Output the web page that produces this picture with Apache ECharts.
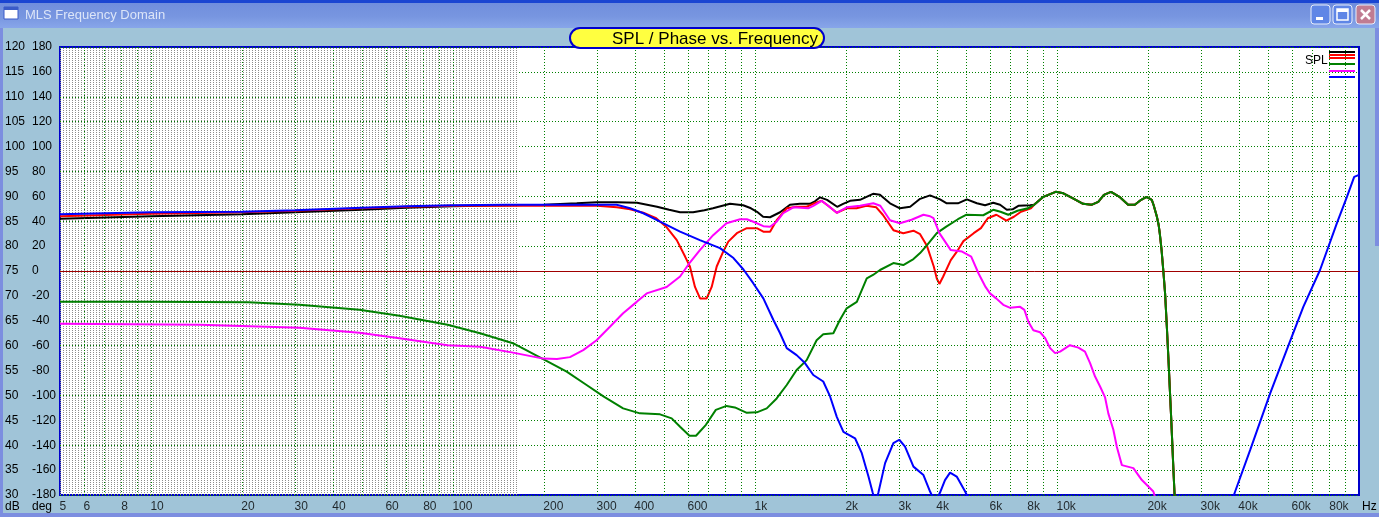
<!DOCTYPE html>
<html>
<head>
<meta charset="utf-8">
<title>MLS Frequency Domain</title>
<script src="https://cdn.jsdelivr.net/npm/echarts@6/dist/echarts.min.js"></script>
<style>
  html, body { margin: 0; padding: 0; background: #A0C4D8; overflow: hidden; }
  #chart { width: 1379px; height: 517px; }
</style>
</head>
<body>
<div id="chart"></div>
<script>
const FONT = 'Liberation Sans, Arial, sans-serif';

// black SPL (sum)
const blackHz = [5, 10, 20, 30, 50, 70, 100, 150, 200, 257, 300, 349, 407, 474, 520, 565, 624, 680, 726, 827,
  914, 970, 1016, 1064, 1122, 1211, 1306, 1409, 1520, 1580, 1643, 1733, 1871, 1958, 2066, 2228, 2460, 2594, 2800, 3020,
  3265, 3522, 3800, 4100, 4316, 4700, 5030, 5430, 5780, 6150, 6480, 6820, 7130, 7450, 8150];
const blackDb = [85.5, 86.0, 86.4, 86.8, 87.3, 87.7, 88.0, 88.2, 88.3, 88.6, 88.8, 88.8, 88.7, 87.9, 87.3, 86.8, 86.8, 87.2, 87.6, 88.5,
  88.2, 87.6, 86.9, 85.9, 85.8, 86.8, 88.3, 88.5, 88.5, 89.0, 89.8, 89.3, 87.9, 88.5, 89.1, 89.3, 90.5, 90.3, 88.6, 87.6,
  87.9, 89.5, 90.2, 89.4, 88.6, 88.6, 89.4, 88.6, 88.2, 88.7, 88.3, 87.3, 87.4, 88.1, 88.2];

// top end where black, red and green run together
const hfHz = [8400, 9015, 9900, 10500, 11300, 12200, 13000, 13700, 14300, 15100, 16100, 17200, 18100, 19000, 19800, 20600,
  20900, 21400, 21700, 21900, 22200, 22500, 22800, 23100, 23400, 23900, 24300, 24600];
const hfDb = [88.3, 89.9, 90.9, 90.6, 89.6, 88.5, 88.3, 88.9, 90.3, 90.9, 89.9, 88.3, 88.3, 89.3, 89.9, 89.3,
  88.2, 86.0, 84.3, 82.5, 79.2, 75.0, 70.5, 64.0, 57.1, 45.1, 35.0, 28.0];

const redHz = [5, 10, 20, 30, 50, 70, 100, 200, 300, 349, 386, 427, 471, 508, 551, 587, 609, 633, 658, 692,
  719, 747, 785, 816, 871, 940, 1014, 1066, 1122, 1180, 1274, 1374, 1483, 1560, 1662, 1747, 1866, 2012, 2170, 2340,
  2522, 2650, 2873, 3098, 3348, 3522, 3713, 3909, 4000, 4080, 4200, 4450, 4700, 4900, 5300, 5600, 5900, 6300, 6800, 7200,
  7600, 8200];
const redDb = [86.0, 86.5, 86.8, 87.1, 87.6, 87.9, 88.1, 88.1, 88.1, 87.8, 87.4, 86.7, 85.6, 83.9, 81.2, 77.9, 75.9, 71.8, 69.5, 69.5,
  71.8, 75.9, 78.9, 80.9, 82.6, 83.6, 83.6, 82.9, 82.9, 85.2, 87.6, 87.9, 87.9, 88.5, 89.1, 88.1, 86.7, 87.6, 87.6, 88.1,
  87.8, 86.3, 83.2, 82.6, 83.1, 82.4, 80.0, 75.9, 73.5, 72.4, 73.9, 77.2, 79.2, 81.0, 82.6, 83.6, 85.6, 86.3, 85.1, 85.9,
  86.9, 87.6];

const greenHz = [5, 10, 21, 31, 49, 66.5, 96, 123, 158, 199, 238, 277, 315, 366, 416, 485, 530, 565, 607, 638,
  688, 742, 805, 858, 940, 1014, 1094, 1180, 1274, 1374, 1483, 1600, 1683, 1818, 1912, 2012, 2174, 2345, 2460, 2594,
  2873, 3098, 3348, 3522, 3713, 4000, 4300, 4700, 5000, 5700, 6150, 6500, 6900, 7400, 8000];
const greenDb = [68.8, 68.8, 68.7, 68.2, 67.2, 66.0, 64.2, 62.5, 60.5, 57.3, 54.8, 52.1, 49.8, 47.4, 46.4, 46.2, 45.4, 43.7, 41.9, 41.9,
  44.1, 47.1, 47.9, 47.6, 46.5, 46.6, 47.4, 49.4, 52.1, 55.1, 57.1, 61.1, 62.3, 62.5, 65.2, 67.5, 68.8, 73.5, 74.2, 75.2,
  76.6, 76.2, 77.4, 78.6, 80.2, 82.6, 83.9, 85.4, 86.3, 86.2, 87.3, 86.9, 86.3, 87.1, 87.6];

const magentaHz = [5, 14.5, 31, 49, 66.5, 96, 123, 158, 199, 221, 244, 270, 299, 331, 366, 406, 438, 510, 565, 607,
  657, 727, 805, 893, 940, 988, 1066, 1122, 1180, 1240, 1340, 1500, 1560, 1662, 1747, 1866, 2012, 2228, 2465, 2600,
  2800, 3020, 3300, 3613, 3800, 3900, 4080, 4450, 4850, 5200, 5500, 5800, 6000, 6290, 6640, 7000, 7550, 7800, 8040, 8350,
  8790, 9140, 9490, 9860, 10240, 11040, 11770, 12380, 12870, 13370, 13890, 14430, 14790, 15370, 15780, 16400, 17900, 19100, 20850, 21500];
const magentaDb = [64.4, 64.2, 63.6, 62.6, 61.5, 60.1, 59.8, 58.6, 57.4, 57.3, 57.7, 59.1, 61.1, 63.8, 66.5, 68.8, 70.5, 71.8, 73.9, 76.6,
  79.2, 82.2, 84.6, 85.4, 85.4, 84.9, 84.0, 83.9, 84.9, 86.6, 87.8, 87.6, 88.1, 89.1, 88.1, 86.7, 87.8, 88.1, 88.6, 88.1,
  85.2, 84.6, 85.3, 86.3, 86.0, 85.6, 82.6, 79.2, 78.9, 77.9, 74.5, 71.8, 70.5, 69.5, 68.2, 67.6, 67.8, 67.2, 64.8, 63.1,
  62.7, 61.5, 59.5, 58.5, 58.8, 60.1, 59.6, 58.8, 56.5, 53.8, 51.8, 49.6, 46.4, 43.1, 39.7, 36.0, 35.4, 33.0, 30.7, 28.0];

const blueHz = [5, 10, 20, 30, 50, 70, 100, 150, 348, 386, 427, 485, 565, 657, 766, 849, 916, 988, 1066, 1150,
  1211, 1274, 1374, 1464, 1560, 1683, 1773, 1866, 1963, 2145, 2258, 2376, 2453, 2510, 2563, 2697, 2873, 3005, 3140, 3348,
  3613, 3800, 3950, 4100, 4258, 4425, 4656, 4965, 5300, 8000, 30000, 37000, 38900, 43600, 50800, 57600, 65400, 74300, 84500, 91200,
  96400, 100000];
const blueDb = [86.4, 86.8, 86.9, 87.2, 87.7, 88.0, 88.2, 88.3, 88.3, 87.6, 86.6, 84.9, 82.9, 81.2, 79.6, 77.6, 75.3, 72.5, 69.5, 65.2,
  62.5, 59.5, 58.1, 56.5, 54.1, 52.8, 49.8, 45.7, 42.7, 41.4, 38.4, 33.7, 30.5, 28.5, 30.5, 36.4, 40.4, 41.1, 39.7, 35.7,
  34.0, 30.7, 28.5, 30.5, 33.0, 34.5, 33.7, 30.7, 27.0, 15.0, 15.0, 27.0, 30.7, 39.0, 50.4, 59.1, 67.8, 75.2, 84.6, 89.9,
  93.9, 94.3];

// frequency grid + labels
const gridHz = [6, 7, 8, 9, 10, 20, 30, 40, 50, 60, 70, 80, 90, 100, 200, 300, 400, 500, 600, 700, 800, 900,
  1000, 2000, 3000, 4000, 5000, 6000, 7000, 8000, 9000, 10000, 20000, 30000, 40000, 50000, 60000, 70000, 80000, 90000];
const tickHz = [5, 6, 8, 10, 20, 30, 40, 60, 80, 100, 200, 300, 400, 600, 1000, 2000, 3000, 4000, 6000, 8000,
  10000, 20000, 30000, 40000, 60000, 80000];
const tickText = ['5', '6', '8', '10', '20', '30', '40', '60', '80', '100', '200', '300', '400', '600', '1k', '2k', '3k', '4k', '6k', '8k',
  '10k', '20k', '30k', '40k', '60k', '80k'];
const fineGridEndHz = 165;
const zeroDb = 75;

function pairs(hz, db) { return hz.map((f, i) => [f, db[i]]); }

// dotted grey fill for the low band
const pat = document.createElement('canvas');
pat.width = 3; pat.height = 2;
const pctx = pat.getContext('2d');
pctx.fillStyle = '#8c8c8c';
pctx.fillRect(0, 0, 1, 1);

const chart = echarts.init(document.getElementById('chart'), null, { renderer: 'canvas' });

function curve(name, color, data, z) {
  return {
    name: name, type: 'line', data: data, xAxisIndex: 0, yAxisIndex: 0,
    showSymbol: false, symbol: 'none', z: z, silent: true, clip: true,
    lineStyle: { color: color, width: 2 }
  };
}

const btn = (x, fill) => ({ type: 'rect', shape: { x: x, y: 5, width: 19, height: 19, r: 3 },
  style: { fill: fill, stroke: '#E8EEFB', lineWidth: 1 }, z: 100 });

const option = {
  animation: false,
  backgroundColor: '#A0C4D8',
  grid: { left: 60, top: 47, width: 1299, height: 448, show: true, backgroundColor: '#ffffff',
    borderColor: '#0000CC', borderWidth: 2, containLabel: false },
  xAxis: [{
    type: 'log', logBase: 10, min: 5, max: 100000,
    axisLine: { show: false }, axisTick: { show: false }, axisLabel: { show: false },
    splitLine: { show: false }, minorSplitLine: { show: false }
  }],
  yAxis: [{
    type: 'value', min: 30, max: 120, interval: 5, position: 'left',
    axisLine: { show: false }, axisTick: { show: false },
    axisLabel: { align: 'left', margin: 55, color: '#000', fontSize: 12, fontFamily: FONT },
    splitLine: { lineStyle: { color: '#008000', type: [1, 2], width: 1 } }
  }, {
    type: 'value', min: -180, max: 180, interval: 20, position: 'left',
    axisLine: { show: false }, axisTick: { show: false },
    axisLabel: { align: 'left', margin: 28, color: '#000', fontSize: 12, fontFamily: FONT },
    splitLine: { show: false }
  }],
  series: [
    {
      type: 'line', data: [], z: 1, silent: true,
      markArea: { silent: true, label: { show: false },
        itemStyle: { color: { image: pat, repeat: 'repeat' }, opacity: 1, borderWidth: 0 },
        data: [[{ xAxis: 5 }, { xAxis: fineGridEndHz }]] }
    },
    {
      type: 'line', data: [], z: 1.5, silent: true,
      markLine: { silent: true, symbol: ['none', 'none'], label: { show: false },
        lineStyle: { color: '#008000', type: [1, 2], width: 1 },
        data: gridHz.map(f => ({ xAxis: f })) }
    },
    {
      type: 'line', data: [], z: 1.6, silent: true,
      markLine: { silent: true, symbol: ['none', 'none'], label: { show: false },
        lineStyle: { color: '#A00000', type: 'solid', width: 1, opacity: 1 },
        data: [{ yAxis: zeroDb }] }
    },
    curve('SPL', '#000000', pairs(blackHz, blackDb).concat(pairs(hfHz, hfDb)), 3),
    curve('SPL red', '#FF0000', pairs(redHz, redDb).concat(pairs(hfHz, hfDb)), 4),
    curve('SPL green', '#008000', pairs(greenHz, greenDb).concat(pairs(hfHz, hfDb)), 5),
    curve('SPL magenta', '#FF00FF', pairs(magentaHz, magentaDb), 6),
    curve('SPL blue', '#0000FF', pairs(blueHz, blueDb), 7),
    {
      type: 'scatter', data: tickHz.map(f => [f, 30]), symbolSize: 1, clip: false, silent: true, z: 8,
      itemStyle: { color: 'rgba(0,0,0,0)' },
      label: { show: true, position: [0, 6], align: 'left', verticalAlign: 'top',
        color: '#000', fontSize: 12, fontFamily: FONT,
        formatter: p => tickText[p.dataIndex] }
    }
  ],
  graphic: [
    // window title bar
    { type: 'rect', shape: { x: 0, y: 0, width: 1379, height: 28 }, z: 90,
      style: { fill: new echarts.graphic.LinearGradient(0, 0, 0, 1, [
        { offset: 0, color: '#6E8CDC' }, { offset: 0.6, color: '#7896E0' }, { offset: 1, color: '#88A6EA' }]) } },
    { type: 'rect', shape: { x: 0, y: 0, width: 1379, height: 3 }, z: 91, style: { fill: '#1A45D2' } },
    { type: 'rect', shape: { x: 4, y: 7, width: 14, height: 12 }, z: 92, style: { fill: '#ffffff', stroke: '#3A5BC8', lineWidth: 1 } },
    { type: 'rect', shape: { x: 4, y: 7, width: 14, height: 3 }, z: 93, style: { fill: '#3A5BC8' } },
    { type: 'text', x: 25, y: 15, z: 92, style: { text: 'MLS Frequency Domain', fill: '#DCE5F8',
      font: '13px ' + FONT, verticalAlign: 'middle' } },
    btn(1311, '#5F86E6'),
    { type: 'rect', shape: { x: 1316, y: 17, width: 7, height: 3 }, z: 101, style: { fill: '#ffffff' } },
    btn(1333, '#5F86E6'),
    { type: 'rect', shape: { x: 1337, y: 9, width: 11, height: 11 }, z: 101, style: { fill: 'none', stroke: '#ffffff', lineWidth: 1.5 } },
    { type: 'rect', shape: { x: 1337, y: 9, width: 11, height: 3 }, z: 101, style: { fill: '#ffffff' } },
    btn(1356, '#C07C92'),
    { type: 'line', shape: { x1: 1361, y1: 10, x2: 1370, y2: 19 }, z: 101, style: { stroke: '#ffffff', lineWidth: 2.5 } },
    { type: 'line', shape: { x1: 1370, y1: 10, x2: 1361, y2: 19 }, z: 101, style: { stroke: '#ffffff', lineWidth: 2.5 } },
    // frame strips
    { type: 'rect', shape: { x: 0, y: 28, width: 3, height: 489 }, z: 90, style: { fill: '#7C8EE0' } },
    { type: 'rect', shape: { x: 1375, y: 28, width: 4, height: 218 }, z: 90, style: { fill: '#7C8EE0' } },
    { type: 'rect', shape: { x: 0, y: 513, width: 1379, height: 4 }, z: 90, style: { fill: '#7C8EE0' } },
    // chart title box
    { type: 'rect', shape: { x: 570, y: 28, width: 254, height: 20, r: 10 }, z: 100,
      style: { fill: '#FFFF40', stroke: '#0000CC', lineWidth: 2 } },
    { type: 'text', x: 612, y: 39, z: 101, style: { text: 'SPL / Phase vs. Frequency', fill: '#000',
      font: '17px ' + FONT, verticalAlign: 'middle' } },
    // legend
    { type: 'text', x: 1305, y: 61, z: 100, style: { text: 'SPL', fill: '#000', font: '12px ' + FONT, verticalAlign: 'middle' } },
    { type: 'rect', shape: { x: 1329, y: 51, width: 26, height: 2 }, z: 100, style: { fill: '#000000' } },
    { type: 'rect', shape: { x: 1329, y: 54, width: 26, height: 2 }, z: 100, style: { fill: '#FF0000' } },
    { type: 'rect', shape: { x: 1329, y: 57, width: 26, height: 2 }, z: 100, style: { fill: '#FF0000' } },
    { type: 'rect', shape: { x: 1329, y: 63, width: 26, height: 2 }, z: 100, style: { fill: '#008000' } },
    { type: 'rect', shape: { x: 1329, y: 70, width: 26, height: 2 }, z: 100, style: { fill: '#FF00FF' } },
    { type: 'rect', shape: { x: 1329, y: 76, width: 26, height: 2 }, z: 100, style: { fill: '#0000FF' } },
    // unit captions
    { type: 'text', x: 5, y: 507, z: 100, style: { text: 'dB', fill: '#000', font: '12px ' + FONT, verticalAlign: 'middle' } },
    { type: 'text', x: 32, y: 507, z: 100, style: { text: 'deg', fill: '#000', font: '12px ' + FONT, verticalAlign: 'middle' } },
    { type: 'text', x: 1362, y: 507, z: 100, style: { text: 'Hz', fill: '#000', font: '12px ' + FONT, verticalAlign: 'middle' } }
  ]
};

chart.setOption(option);
window.addEventListener('resize', () => chart.resize());
</script>
</body>
</html>
